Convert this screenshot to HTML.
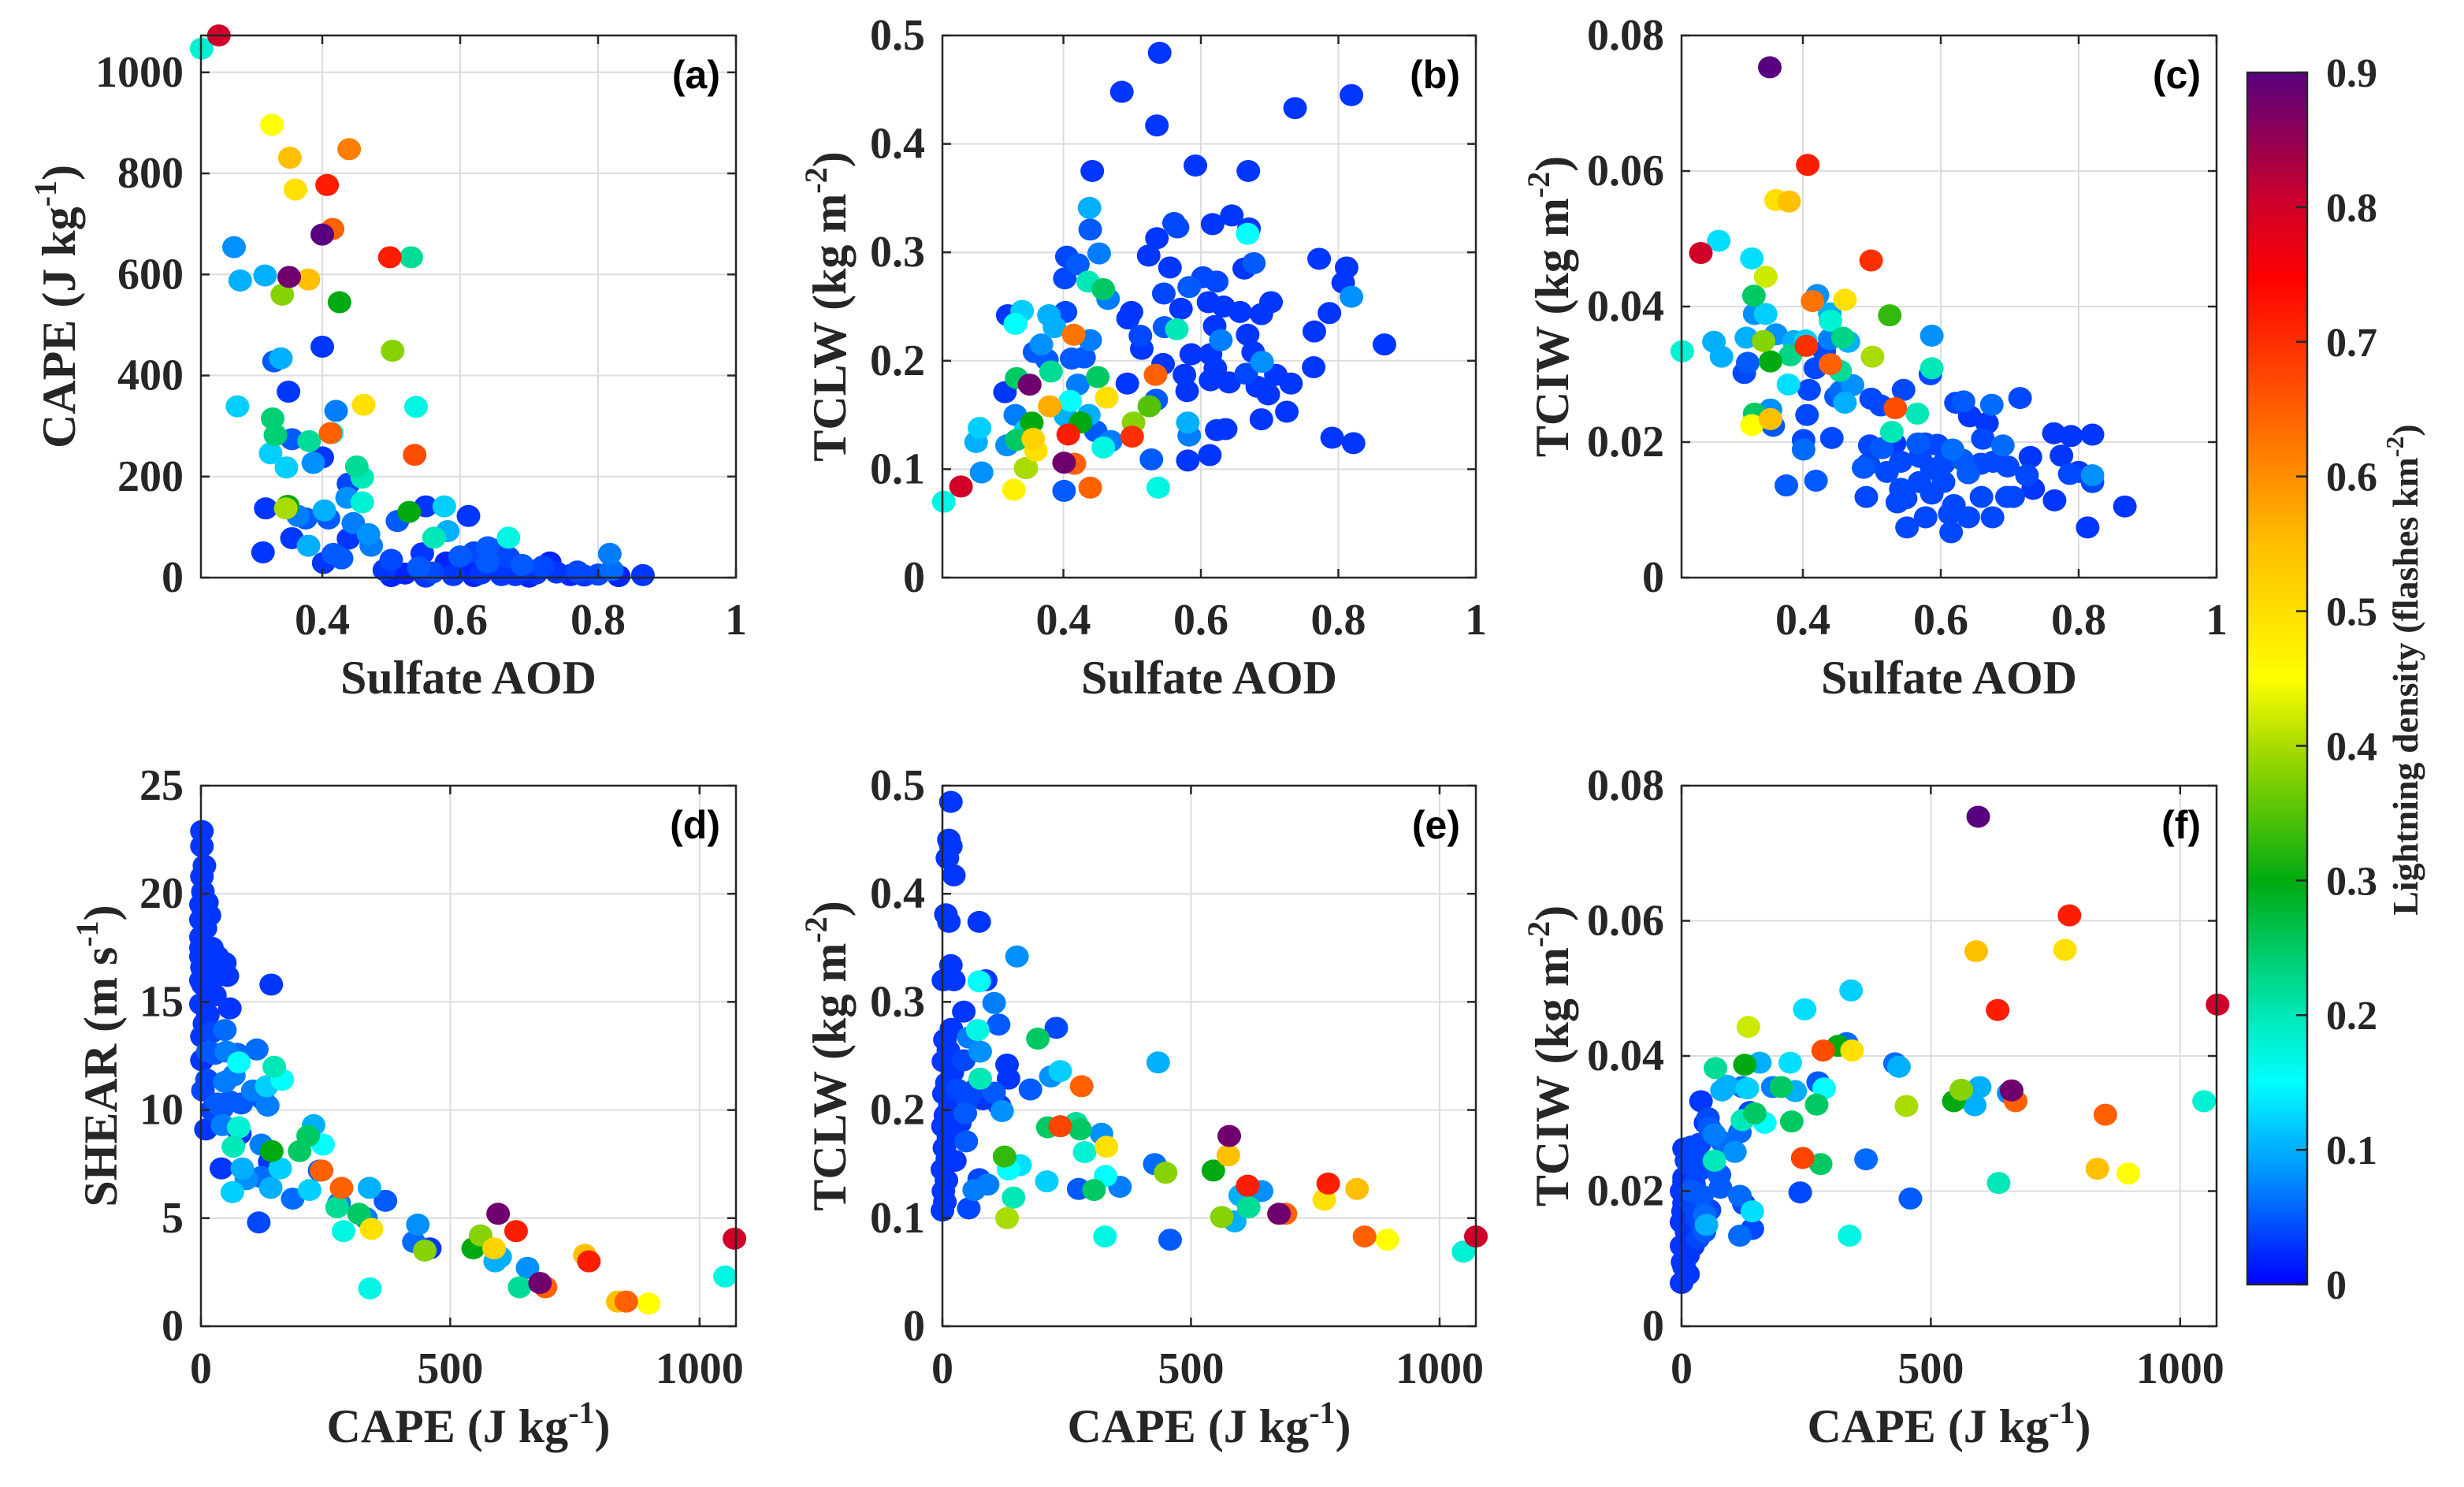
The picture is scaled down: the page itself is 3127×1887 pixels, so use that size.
<!DOCTYPE html>
<html><head><meta charset="utf-8">
<style>
html,body{margin:0;padding:0;background:#fff;}
svg{display:block;}
</style></head>
<body>
<svg id="fig" width="3127" height="1887" viewBox="0 0 3127 1887" xmlns="http://www.w3.org/2000/svg">
<defs>
<linearGradient id="cbgrad" x1="0" y1="1" x2="0" y2="0">
<stop offset="0" stop-color="#0000ff"/>
<stop offset="0.09" stop-color="#0090ff"/>
<stop offset="0.167" stop-color="#00ffff"/>
<stop offset="0.222" stop-color="#00e8b8"/>
<stop offset="0.333" stop-color="#00aa10"/>
<stop offset="0.444" stop-color="#a8dc00"/>
<stop offset="0.5" stop-color="#ffff00"/>
<stop offset="0.61" stop-color="#ffc000"/>
<stop offset="0.72" stop-color="#ff6000"/>
<stop offset="0.83" stop-color="#ff0000"/>
<stop offset="0.89" stop-color="#d00028"/>
<stop offset="1" stop-color="#58007f"/>
</linearGradient>
</defs>
</svg>
<script>
// ---------- data ----------
const aAOD=[0.225,0.25,0.327,0.439,0.353,0.361,0.407,0.415,0.4,0.272,0.498,0.529,0.281,0.317,0.352,0.38,0.342,0.425,0.4,0.502,0.33,0.34,0.351,0.277,0.46,0.536,0.42,0.328,0.332,0.381,0.356,0.412,0.414,0.325,0.4,0.387,0.348,0.534,0.45,0.458,0.438,0.318,0.35,0.347,0.365,0.376,0.409,0.403,0.436,0.458,0.445,0.467,0.438,0.471,0.38,0.356,0.314,0.402,0.416,0.428,0.509,0.526,0.55,0.577,0.582,0.562,0.612,0.67,0.817,0.865,0.49,0.5,0.52,0.54,0.545,0.56,0.58,0.59,0.6,0.61,0.62,0.63,0.64,0.65,0.66,0.67,0.68,0.69,0.7,0.71,0.72,0.73,0.74,0.76,0.78,0.8,0.82,0.83,0.5,0.55,0.62,0.66,0.7,0.77,0.64];
const aCAPE=[1047,1073,896,848,831,768,777,690,679,654,634,634,588,598,595,590,560,545,457,449,428,434,368,339,342,338,330,315,282,270,274,286,286,246,238,227,218,243,220,198,186,137,142,137,122,117,117,133,158,149,108,86,77,63,63,78,50,29,47,38,112,130,141,141,92,79,122,79,47,5,15,35,8,20,48,10,30,5,42,18,50,8,30,55,12,40,5,25,15,8,22,30,10,5,4,6,15,3,3,2,3,5,2,12,60];
const aLD=[0.18,0.8,0.45,0.62,0.55,0.5,0.72,0.65,0.9,0.08,0.72,0.22,0.1,0.1,0.88,0.55,0.38,0.3,0.03,0.38,0.05,0.1,0.03,0.12,0.5,0.17,0.07,0.24,0.24,0.22,0.05,0.65,0.15,0.12,0.03,0.08,0.12,0.67,0.22,0.2,0.04,0.03,0.3,0.4,0.07,0.05,0.05,0.1,0.08,0.18,0.07,0.08,0.03,0.07,0.1,0.03,0.03,0.03,0.05,0.05,0.05,0.3,0.03,0.12,0.1,0.2,0.03,0.17,0.07,0.03,0.03,0.04,0.02,0.05,0.03,0.04,0.02,0.03,0.05,0.02,0.04,0.03,0.05,0.03,0.02,0.04,0.03,0.05,0.02,0.03,0.04,0.02,0.03,0.02,0.03,0.04,0.06,0.02,0.02,0.03,0.02,0.03,0.02,0.04,0.05];

const bAOD=[0.226,0.251,0.281,0.273,0.278,0.328,0.319,0.34,0.33,0.315,0.33,0.332,0.351,0.318,0.332,0.354,0.346,0.36,0.356,0.345,0.358,0.368,0.376,0.382,0.38,0.379,0.387,0.403,0.402,0.405,0.421,0.436,0.458,0.465,0.452,0.439,0.438,0.442,0.415,0.439,0.412,0.43,0.421,0.45,0.41,0.403,0.425,0.437,0.463,0.447,0.469,0.458,0.407,0.416,0.401,0.345,0.401,0.439,0.538,0.5,0.502,0.525,0.535,0.534,0.528,0.493,0.485,0.54,0.536,0.499,0.494,0.512,0.514,0.524,0.536,0.546,0.555,0.547,0.545,0.561,0.566,0.571,0.565,0.576,0.58,0.581,0.583,0.581,0.592,0.586,0.583,0.603,0.611,0.623,0.617,0.62,0.614,0.621,0.614,0.641,0.623,0.636,0.613,0.645,0.633,0.629,0.657,0.663,0.677,0.669,0.67,0.668,0.666,0.668,0.688,0.676,0.689,0.682,0.698,0.688,0.702,0.709,0.731,0.725,0.737,0.765,0.764,0.772,0.787,0.791,0.812,0.807,0.819,0.819,0.822,0.867];
const bTCLW=[0.070,0.084,0.097,0.125,0.138,0.081,0.242,0.246,0.234,0.171,0.150,0.184,0.178,0.122,0.127,0.143,0.101,0.117,0.128,0.136,0.208,0.215,0.201,0.190,0.158,0.242,0.231,0.245,0.276,0.296,0.289,0.273,0.266,0.257,0.299,0.321,0.341,0.375,0.224,0.219,0.202,0.203,0.178,0.185,0.163,0.149,0.143,0.150,0.166,0.135,0.126,0.120,0.132,0.105,0.106,0.101,0.080,0.083,0.083,0.130,0.143,0.158,0.164,0.187,0.109,0.179,0.448,0.484,0.417,0.245,0.239,0.223,0.211,0.297,0.313,0.262,0.286,0.231,0.197,0.327,0.323,0.248,0.229,0.187,0.172,0.143,0.131,0.108,0.380,0.206,0.268,0.277,0.254,0.273,0.326,0.232,0.206,0.193,0.182,0.180,0.136,0.137,0.113,0.334,0.250,0.219,0.245,0.285,0.290,0.375,0.322,0.317,0.188,0.224,0.243,0.208,0.199,0.176,0.169,0.146,0.254,0.187,0.179,0.153,0.433,0.227,0.194,0.294,0.244,0.129,0.286,0.272,0.259,0.445,0.124,0.215];
const bLD=[0.17,0.8,0.08,0.1,0.12,0.47,0.03,0.12,0.15,0.03,0.07,0.25,0.88,0.08,0.25,0.3,0.4,0.5,0.52,0.12,0.05,0.08,0.05,0.22,0.57,0.1,0.1,0.04,0.04,0.04,0.05,0.2,0.25,0.07,0.07,0.05,0.1,0.03,0.63,0.07,0.05,0.05,0.07,0.25,0.15,0.1,0.3,0.1,0.5,0.05,0.07,0.17,0.72,0.65,0.88,0.4,0.05,0.65,0.17,0.7,0.38,0.35,0.05,0.65,0.05,0.03,0.03,0.03,0.03,0.03,0.03,0.04,0.03,0.03,0.03,0.04,0.03,0.05,0.03,0.04,0.04,0.03,0.2,0.03,0.03,0.1,0.07,0.03,0.03,0.03,0.05,0.04,0.03,0.04,0.03,0.03,0.03,0.03,0.03,0.03,0.03,0.03,0.03,0.03,0.03,0.07,0.03,0.03,0.05,0.03,0.03,0.15,0.04,0.03,0.03,0.03,0.08,0.03,0.03,0.03,0.03,0.03,0.03,0.03,0.03,0.03,0.03,0.03,0.03,0.03,0.03,0.03,0.08,0.03,0.03,0.03];

const cAOD=[0.225,0.252,0.278,0.326,0.346,0.352,0.361,0.38,0.407,0.499,0.461,0.414,0.421,0.329,0.33,0.346,0.439,0.44,0.526,0.587,0.271,0.282,0.318,0.343,0.361,0.387,0.404,0.439,0.458,0.466,0.382,0.353,0.32,0.315,0.405,0.431,0.44,0.454,0.418,0.501,0.587,0.585,0.379,0.472,0.409,0.455,0.448,0.461,0.499,0.513,0.534,0.546,0.566,0.353,0.33,0.353,0.326,0.357,0.406,0.401,0.401,0.442,0.529,0.497,0.515,0.533,0.567,0.577,0.595,0.617,0.622,0.633,0.642,0.667,0.674,0.715,0.661,0.69,0.764,0.789,0.82,0.73,0.775,0.787,0.8,0.82,0.82,0.725,0.734,0.765,0.867,0.813,0.376,0.419,0.488,0.495,0.522,0.542,0.492,0.537,0.549,0.551,0.578,0.613,0.615,0.64,0.675,0.659,0.696,0.705,0.587,0.604,0.64,0.587,0.57,0.604,0.631,0.569,0.542,0.658,0.676,0.697,0.619];
const cTCIW=[0.0334,0.0479,0.0497,0.0471,0.0444,0.0753,0.0557,0.0555,0.0609,0.0468,0.041,0.0408,0.0417,0.0416,0.0389,0.0389,0.039,0.0379,0.0387,0.0357,0.0348,0.0326,0.0354,0.0349,0.0359,0.0349,0.035,0.0352,0.0354,0.0348,0.0328,0.0319,0.0317,0.0302,0.0342,0.0334,0.0315,0.0305,0.0309,0.0326,0.0309,0.03,0.0285,0.0284,0.0277,0.0275,0.0267,0.0258,0.0264,0.0254,0.025,0.0277,0.0242,0.0248,0.0242,0.0234,0.0225,0.0224,0.024,0.0203,0.0189,0.0206,0.0215,0.0195,0.0191,0.0198,0.0198,0.0198,0.0196,0.0189,0.0258,0.026,0.0238,0.0228,0.0255,0.0265,0.0205,0.0195,0.0213,0.0209,0.0211,0.0178,0.018,0.0153,0.0156,0.0151,0.0141,0.0151,0.0131,0.0114,0.0105,0.0074,0.0136,0.0143,0.0162,0.0168,0.0156,0.0171,0.0119,0.0111,0.0117,0.0074,0.0089,0.0094,0.0067,0.0089,0.0089,0.0119,0.0119,0.0119,0.0124,0.0141,0.0154,0.0161,0.0178,0.0168,0.0174,0.0141,0.0131,0.0168,0.0171,0.0164,0.0107];
const cLD=[0.18,0.8,0.13,0.13,0.42,0.9,0.5,0.55,0.72,0.7,0.5,0.63,0.08,0.25,0.08,0.12,0.1,0.18,0.33,0.08,0.1,0.1,0.1,0.38,0.08,0.1,0.12,0.07,0.23,0.1,0.23,0.3,0.05,0.04,0.7,0.04,0.65,0.22,0.04,0.4,0.2,0.04,0.13,0.08,0.04,0.06,0.05,0.1,0.04,0.04,0.67,0.04,0.2,0.08,0.25,0.55,0.45,0.05,0.04,0.04,0.06,0.04,0.2,0.04,0.05,0.03,0.05,0.04,0.04,0.06,0.04,0.05,0.03,0.03,0.06,0.04,0.04,0.06,0.03,0.03,0.03,0.03,0.03,0.04,0.03,0.08,0.04,0.04,0.03,0.03,0.03,0.03,0.05,0.05,0.05,0.04,0.04,0.04,0.04,0.04,0.04,0.04,0.04,0.04,0.04,0.04,0.04,0.04,0.04,0.04,0.04,0.04,0.05,0.04,0.04,0.04,0.05,0.04,0.04,0.04,0.04,0.04,0.04];

const dCAPE=[1070,1051,898,853,836,778,770,680,691,639,655,632,596,600,590,588,561,546,459,449,427,435,370,338,331,342,339,317,286,273,277,282,242,238,245,226,218,198,215,184,159,142,140,138,121,116,121,134,132,147,163,112,104,124,141,65,63,83,91,78,76,41,43,10,81,58,33,48,66,76,73,51,28,12,48,22,58,2,14,28,53,48,33,4,12,0,9,0,12,4,2,7,2,2,0,2,0,7,2,14,4,22,43,22,33,17,0,0,0];
const dSHEAR=[4.05,2.3,1.05,1.14,1.14,3.0,3.3,2.0,1.8,1.8,2.7,4.4,5.2,3.2,3.0,3.6,4.2,3.6,3.6,3.5,3.9,4.7,5.8,6.4,5.0,4.5,1.75,5.2,4.4,5.5,5.7,6.4,7.2,7.2,8.4,9.3,6.3,8.1,8.8,5.9,7.3,8.1,6.4,7.6,6.9,4.8,8.4,10.2,11.1,12.0,11.4,12.8,10.9,10.5,15.8,8.3,6.2,7.3,6.8,8.9,9.2,7.3,9.3,9.1,10.3,10.4,10.3,11.3,11.6,12.2,12.6,12.7,12.6,11.4,13.7,13.6,14.7,13.4,14.4,15.3,16.2,16.8,16.2,15.8,17.1,17.5,18.4,18.8,19.6,20.1,20.8,21.3,22.2,22.9,18.0,16.6,14.9,14.0,12.3,12.7,10.9,10.0,10.1,17.5,17.1,19.0,19.5,17.1,16.0];
const dLD=[0.8,0.17,0.45,0.65,0.55,0.72,0.55,0.88,0.65,0.22,0.08,0.72,0.88,0.1,0.1,0.52,0.38,0.3,0.03,0.38,0.06,0.08,0.05,0.1,0.07,0.5,0.17,0.25,0.17,0.22,0.07,0.65,0.65,0.05,0.15,0.1,0.12,0.25,0.25,0.06,0.12,0.3,0.1,0.03,0.06,0.04,0.07,0.07,0.12,0.2,0.15,0.06,0.07,0.05,0.03,0.2,0.12,0.1,0.08,0.03,0.18,0.03,0.07,0.03,0.05,0.05,0.05,0.07,0.07,0.15,0.06,0.07,0.05,0.04,0.06,0.04,0.03,0.03,0.03,0.03,0.03,0.03,0.03,0.03,0.03,0.03,0.03,0.03,0.03,0.03,0.03,0.03,0.03,0.03,0.03,0.03,0.03,0.03,0.03,0.05,0.04,0.04,0.05,0.03,0.03,0.03,0.03,0.03,0.03];

const eCAPE=[1073,1048,895,849,834,776,768,690,677,616,642,614,599,588,562,545,575,577,449,427,458,434,357,328,327,330,320,305,274,286,277,269,280,237,212,210,218,237,229,192,177,150,156,143,130,125,133,130,133,120,115,104,113,104,87,74,91,74,64,53,48,46,51,81,66,76,76,71,53,43,43,23,17,2,74,7,13,17,13,17,10,23,0,5,2,8,0,10,4,12,1,6,15,3,9,20,2,12,5,18,25,30,35];
const eTCLW=[0.083,0.069,0.080,0.083,0.127,0.132,0.117,0.104,0.104,0.110,0.125,0.130,0.121,0.097,0.101,0.144,0.158,0.176,0.142,0.150,0.080,0.244,0.129,0.139,0.083,0.166,0.178,0.126,0.127,0.161,0.182,0.188,0.222,0.185,0.184,0.134,0.231,0.236,0.276,0.266,0.219,0.342,0.149,0.119,0.100,0.157,0.145,0.242,0.229,0.199,0.204,0.216,0.279,0.299,0.320,0.319,0.131,0.136,0.126,0.109,0.171,0.197,0.210,0.210,0.219,0.229,0.254,0.274,0.267,0.246,0.291,0.320,0.334,0.320,0.374,0.381,0.374,0.485,0.450,0.444,0.433,0.417,0.107,0.115,0.125,0.135,0.145,0.155,0.165,0.175,0.185,0.195,0.205,0.215,0.225,0.235,0.245,0.255,0.265,0.275,0.153,0.219,0.188];
const eLD=[0.8,0.18,0.45,0.65,0.55,0.72,0.5,0.65,0.88,0.22,0.08,0.72,0.1,0.1,0.38,0.3,0.55,0.88,0.38,0.06,0.05,0.1,0.07,0.15,0.17,0.5,0.08,0.25,0.05,0.18,0.25,0.22,0.65,0.68,0.25,0.12,0.08,0.12,0.04,0.25,0.05,0.08,0.13,0.2,0.4,0.33,0.15,0.03,0.03,0.08,0.03,0.05,0.05,0.07,0.03,0.15,0.07,0.04,0.07,0.04,0.05,0.05,0.04,0.03,0.04,0.2,0.08,0.17,0.07,0.04,0.03,0.03,0.03,0.03,0.03,0.03,0.03,0.03,0.03,0.03,0.03,0.03,0.03,0.03,0.03,0.03,0.03,0.03,0.03,0.03,0.03,0.03,0.03,0.03,0.03,0.03,0.03,0.03,0.03,0.03,0.03,0.04,0.03];

const fCAPE=[1075,1048,896,834,850,778,769,595,591,634,636,670,662,656,598,588,561,546,451,436,428,459,370,340,337,342,331,314,284,279,243,238,274,286,271,221,228,218,247,200,183,157,134,127,122,132,91,81,68,167,122,147,137,117,107,142,142,117,117,125,76,78,66,41,46,50,56,39,48,53,56,66,81,20,5,36,30,10,36,5,0,20,5,15,0,10,23,0,13,5,13,0,33,46,5,10,3,8,15,20,2,12,25,30];
const fTCIW=[0.0476,0.0333,0.0226,0.0233,0.0313,0.0608,0.0557,0.0754,0.0555,0.0468,0.0212,0.0333,0.0349,0.0345,0.0354,0.0327,0.035,0.0333,0.0326,0.0384,0.0389,0.0189,0.0247,0.0497,0.0134,0.0408,0.0419,0.0415,0.0408,0.024,0.0249,0.0198,0.0361,0.0352,0.0328,0.0303,0.0348,0.039,0.0469,0.0354,0.0354,0.039,0.0443,0.0387,0.0354,0.0352,0.0356,0.0349,0.0382,0.0301,0.0305,0.0315,0.0317,0.0287,0.0258,0.017,0.0144,0.0134,0.0193,0.0181,0.0224,0.0205,0.0245,0.0193,0.014,0.015,0.0172,0.0333,0.0301,0.0308,0.0294,0.0284,0.0273,0.0266,0.0263,0.027,0.0252,0.0245,0.0231,0.0214,0.02,0.02,0.0182,0.0165,0.0154,0.014,0.0119,0.0119,0.0105,0.0088,0.0077,0.0064,0.013,0.0165,0.022,0.019,0.017,0.012,0.024,0.018,0.0095,0.0155,0.021,0.016];
const fLD=[0.8,0.18,0.45,0.55,0.65,0.72,0.5,0.9,0.55,0.72,0.2,0.65,0.88,0.08,0.1,0.1,0.38,0.3,0.4,0.1,0.06,0.05,0.06,0.12,0.17,0.5,0.06,0.3,0.67,0.25,0.68,0.04,0.05,0.15,0.25,0.25,0.1,0.13,0.13,0.25,0.07,0.1,0.42,0.3,0.06,0.12,0.1,0.1,0.22,0.15,0.2,0.25,0.04,0.06,0.08,0.13,0.04,0.06,0.06,0.04,0.05,0.05,0.2,0.05,0.05,0.1,0.04,0.03,0.03,0.04,0.05,0.07,0.06,0.04,0.03,0.04,0.04,0.03,0.04,0.03,0.03,0.05,0.03,0.03,0.03,0.03,0.03,0.03,0.03,0.03,0.03,0.03,0.04,0.06,0.03,0.03,0.03,0.03,0.04,0.04,0.03,0.03,0.04,0.04];

const aodTicks=[0.4,0.6,0.8,1];
const capeTicks=[0,500,1000];
const capeYTicks=[0,200,400,600,800,1000];
const tclwTicks=[0,0.1,0.2,0.3,0.4,0.5];
const tciwTicks=[0,0.02,0.04,0.06,0.08];
const shearTicks=[0,5,10,15,20,25];
const cbTicks=[0,0.1,0.2,0.3,0.4,0.5,0.6,0.7,0.8,0.9];

// ---------- rendering ----------
const NS='http://www.w3.org/2000/svg';
const SERIF='"Liberation Serif", serif';
const SANS='"Liberation Sans", sans-serif';
const svg=document.getElementById('fig');
function mk(tag,attrs,parent){const e=document.createElementNS(NS,tag);for(const k in attrs)e.setAttribute(k,attrs[k]);(parent||svg).appendChild(e);return e;}
function txt(attrs,parent,fam){attrs['font-family']=fam||SERIF;attrs['font-weight']='bold';attrs.fill=attrs.fill||'#262626';return mk('text',attrs,parent);}

const cmapStops=[[0,[0,0,255]],[0.08,[0,144,255]],[0.15,[0,255,255]],[0.2,[0,232,184]],[0.3,[0,170,16]],[0.4,[168,220,0]],[0.45,[255,255,0]],[0.55,[255,192,0]],[0.65,[255,96,0]],[0.75,[255,0,0]],[0.8,[208,0,40]],[0.9,[88,0,127]]];
function cmap(v){
  if(v<=0)return 'rgb(0,0,255)';if(v>=0.9)return 'rgb(88,0,127)';
  for(let i=1;i<cmapStops.length;i++){if(v<=cmapStops[i][0]){const a=cmapStops[i-1],b=cmapStops[i];const t=(v-a[0])/(b[0]-a[0]);const c=a[1].map((x,j)=>Math.round(x+(b[1][j]-x)*t));return 'rgb('+c.join(',')+')';}}
  return 'rgb(88,0,127)';
}
function fmt(v){return String(Math.round(v*1000)/1000);}

function panel(p){
  const g=mk('g',{});
  
  
  const sx=v=>p.x0+(v-p.xlim[0])/(p.xlim[1]-p.xlim[0])*(p.x1-p.x0);
  const sy=v=>p.y1-(v-p.ylim[0])/(p.ylim[1]-p.ylim[0])*(p.y1-p.y0);
  mk('rect',{x:p.x0,y:p.y0,width:p.x1-p.x0,height:p.y1-p.y0,fill:'#fff'},g);
  const grid=mk('g',{stroke:'#dcdcdc','stroke-width':2},g);
  
  
  p.xt.forEach(t=>{const x=sx(t);if(x>p.x0+2&&x<p.x1-2)mk('line',{x1:x,x2:x,y1:p.y0,y2:p.y1},grid);});
  p.yt.forEach(t=>{const y=sy(t);if(y>p.y0+2&&y<p.y1-2)mk('line',{x1:p.x0,x2:p.x1,y1:y,y2:y},grid);});
  const pts=mk('g',{},g);
  
  
  const order=p.c.map((c,i)=>i).sort((i,j)=>p.c[i]-p.c[j]);
  order.forEach(i=>{
    const c=mk('ellipse',{cx:sx(p.x[i]),cy:sy(p.y[i]),rx:15,ry:14,fill:cmap(p.c[i])},pts);
    
    
  });
  const ax=mk('g',{stroke:'#262626','stroke-width':2.5,fill:'none'},g);
  
  
  mk('rect',{x:p.x0,y:p.y0,width:p.x1-p.x0,height:p.y1-p.y0},ax);
  p.xt.forEach(t=>{const x=sx(t);mk('line',{x1:x,x2:x,y1:p.y1,y2:p.y1-11},ax);mk('line',{x1:x,x2:x,y1:p.y0,y2:p.y0+11},ax);
    const tx=txt({x:x,y:p.y1+72,'text-anchor':'middle','font-size':56},g);tx.textContent=fmt(t);
    
    });
  p.yt.forEach(t=>{const y=sy(t);mk('line',{x1:p.x0,x2:p.x0+11,y1:y,y2:y},ax);mk('line',{x1:p.x1,x2:p.x1-11,y1:y,y2:y},ax);
    const tx=txt({x:p.x0-22,y:y+18,'text-anchor':'end','font-size':56},g);tx.textContent=fmt(t);
    
    });
  const xl=txt({x:(p.x0+p.x1)/2,y:p.y1+147,'text-anchor':'middle','font-size':60},g);
  xl.innerHTML=p.xlabel;
  
  
  const yl=txt({x:0,y:0,'text-anchor':'middle','font-size':60,transform:'translate('+(p.ylx)+','+((p.y0+p.y1)/2)+') rotate(-90)'},g);
  yl.innerHTML=p.ylabel;
  
  
  const pl=txt({x:p.x1-20,y:p.y0+67,'text-anchor':'end','font-size':50,fill:'#000'},g,SANS);
  pl.textContent='('+p.id+')';
  
  
}
const sup=s=>'<tspan dy="-24" font-size="40">'+s+'</tspan><tspan dy="24">)</tspan>';
const capeLab='CAPE (J kg'+sup('-1');
const aodLab='Sulfate AOD';
const tclwLab='TCLW (kg m'+sup('-2');
const tciwLab='TCIW (kg m'+sup('-2');
const shearLab='SHEAR (m s'+sup('-1');
const rowTop={y0:45,y1:733}, rowBot={y0:997,y1:1683};
const aodLim=[0.224,1], capeLim=[0,1073];
panel({id:'a',x0:255,x1:934,...rowTop,xlim:aodLim,ylim:[0,1073],xt:aodTicks,yt:capeYTicks,x:aAOD,y:aCAPE,c:aLD,xlabel:aodLab,ylabel:capeLab,ylx:95});
panel({id:'b',x0:1196,x1:1873,...rowTop,xlim:aodLim,ylim:[0,0.5],xt:aodTicks,yt:tclwTicks,x:bAOD,y:bTCLW,c:bLD,xlabel:aodLab,ylabel:tclwLab,ylx:1073});
panel({id:'c',x0:2134,x1:2813,...rowTop,xlim:aodLim,ylim:[0,0.08],xt:aodTicks,yt:tciwTicks,x:cAOD,y:cTCIW,c:cLD,xlabel:aodLab,ylabel:tciwLab,ylx:1990});
panel({id:'d',x0:255,x1:934,...rowBot,xlim:capeLim,ylim:[0,25],xt:capeTicks,yt:shearTicks,x:dCAPE,y:dSHEAR,c:dLD,xlabel:capeLab,ylabel:shearLab,ylx:148});
panel({id:'e',x0:1196,x1:1873,...rowBot,xlim:capeLim,ylim:[0,0.5],xt:capeTicks,yt:tclwTicks,x:eCAPE,y:eTCLW,c:eLD,xlabel:capeLab,ylabel:tclwLab,ylx:1073});
panel({id:'f',x0:2134,x1:2813,...rowBot,xlim:capeLim,ylim:[0,0.08],xt:capeTicks,yt:tciwTicks,x:fCAPE,y:fTCIW,c:fLD,xlabel:capeLab,ylabel:tciwLab,ylx:1990});

// colorbar
const cb=mk('g',{});


const cbx0=2852,cbx1=2928,cby0=92,cby1=1630,cbmax=0.9;
mk('rect',{x:cbx0,y:cby0,width:cbx1-cbx0,height:cby1-cby0,fill:'url(#cbgrad)',stroke:'#262626','stroke-width':2.5},cb);
cbTicks.forEach(t=>{const y=cby1-t/cbmax*(cby1-cby0);
  mk('line',{x1:cbx1,x2:cbx1-14,y1:y,y2:y,stroke:'#262626','stroke-width':2.5},cb);
  const tx=txt({x:cbx1+24,y:y+18,'font-size':52},cb);tx.textContent=fmt(t);
  
  });
const ct=txt({x:0,y:0,'text-anchor':'middle','font-size':46,transform:'translate(3068,850) rotate(-90)'},cb);
ct.innerHTML='Lightning density (flashes km<tspan dy="-18" font-size="32">-2</tspan><tspan dy="18">)</tspan>';


</script>
</body></html>
